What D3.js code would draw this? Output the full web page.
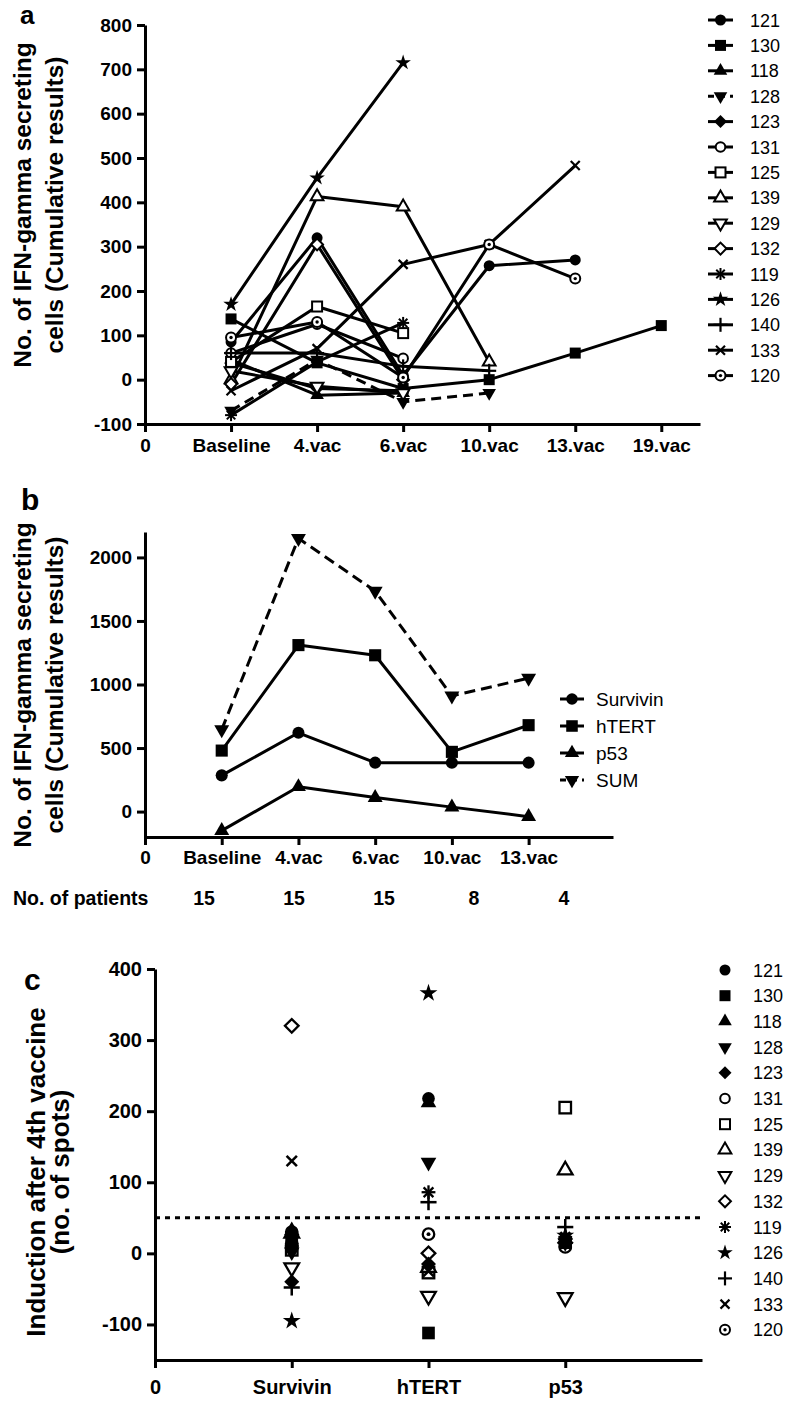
<!DOCTYPE html>
<html><head><meta charset="utf-8">
<script src="https://cdn.jsdelivr.net/npm/d3@7"></script>
<style>
body{margin:0;background:#fff;}
svg{display:block;font-family:"Liberation Sans",Arial,Helvetica,sans-serif;}
</style></head><body>
<svg id="chart" width="786" height="1401"></svg>
<script>
// ---------------- DATA ----------------
const patientIds = ["121","130","118","128","123","131","125","139","129","132","119","126","140","133","120"];
const visitsA = ["Baseline","4.vac","6.vac","10.vac","13.vac","19.vac"];
const yTicksA = [-100,0,100,200,300,400,500,600,700,800];
const a121 = [85, 320, 10, 257, 270, null];
const a130 = [137, 38, -20, 0, 60, 122];
const a118 = [45, -35, -30, null, null, null];
const a128 = [-70, 45, -50, -30, null, null];
const a123 = [38, -20, -25, null, null, null];
const a131 = [60, 125, 48, null, null, null];
const a125 = [40, 165, 105, null, null, null];
const a139 = [0, 413, 390, 40, null, null];
const a129 = [20, -15, -30, null, null, null];
const a132 = [-10, 305, 0, null, null, null];
const a119 = [-80, 40, 128, null, null, null];
const a126 = [170, 455, 715, null, null, null];
const a140 = [60, 60, 30, 20, null, null];
const a133 = [-25, 70, 260, 305, 483, null];
const a120 = [95, 130, 5, 305, 228, null];

const visitsB = ["Baseline","4.vac","6.vac","10.vac","13.vac"];
const yTicksB = [0,500,1000,1500,2000];
const bSurvivin = [285, 620, 385, 385, 385];
const bHTERT = [480, 1310, 1230, 470, 680];
const bP53 = [-150, 195, 110, 35, -40];
const bSum = [645, 2150, 1735, 910, 1050];
const seriesB = ["Survivin","hTERT","p53","SUM"];
const patientsPerVisit = [15, 15, 15, 8, 4];

const peptides = ["Survivin","hTERT","p53"];
const yTicksC = [-100,0,100,200,300,400];
const threshold = 50;
// order follows patientIds
const cSurvivin = [22, 12, 32, 2, -40, 15, 5, 28, -20, 320, 10, -95, -48, 130, 30];
const cHTERT    = [218, -112, 212, 128, -15, -25, -27, -20, -60, 0, 86, 366, 72, -25, 27];
const cP53      = [20, 15, 20, 15, 20, 10, 205, 117, -62, 15, 23, 25, 37, 20, 9];

// ---------------- STYLE ----------------
const seriesA = [a121,a130,a118,a128,a123,a131,a125,a139,a129,a132,a119,a126,a140,a133,a120];
const markerTypes = ["circle","square","triangle","triangleDown","diamond","circleOpen","squareOpen",
  "triangleOpen","triangleDownOpen","diamondOpen","asterisk","star","plus","times","circleDot"];
const dashedA = {"128": true};
const fmt = d => (d < 0 ? "-" + Math.abs(d) : String(d));

const svg = d3.select("#chart");
const BOLD = 700;

function marker(g, type, x, y, k = 1) {
  const s = g.append("g").attr("transform", `translate(${x},${y}) scale(${k})`);
  const black = "#000";
  const openStyle = sel => sel.attr("fill", "#fff").attr("stroke", black).attr("stroke-width", 2);
  switch (type) {
    case "circle": s.append("circle").attr("r", 5.5).attr("fill", black); break;
    case "circleOpen": openStyle(s.append("circle").attr("r", 4.8)); break;
    case "circleDot":
      openStyle(s.append("circle").attr("r", 5));
      s.append("circle").attr("r", 1.7).attr("fill", black); break;
    case "square": s.append("rect").attr("x", -5.5).attr("y", -5.5).attr("width", 11).attr("height", 11).attr("fill", black); break;
    case "squareOpen": openStyle(s.append("rect").attr("x", -5).attr("y", -5).attr("width", 10).attr("height", 10)); break;
    case "triangle": s.append("path").attr("d", d3.symbol(d3.symbolTriangle, 80)()).attr("fill", black); break;
    case "triangleOpen": openStyle(s.append("path").attr("d", d3.symbol(d3.symbolTriangle, 70)())); break;
    case "triangleDown": s.append("path").attr("d", d3.symbol(d3.symbolTriangle, 80)()).attr("transform", "rotate(180)").attr("fill", black); break;
    case "triangleDownOpen": openStyle(s.append("path").attr("d", d3.symbol(d3.symbolTriangle, 70)()).attr("transform", "rotate(180)")); break;
    case "diamond": s.append("rect").attr("x", -4.6).attr("y", -4.6).attr("width", 9.2).attr("height", 9.2).attr("transform", "rotate(45)").attr("fill", black); break;
    case "diamondOpen": openStyle(s.append("rect").attr("x", -4.2).attr("y", -4.2).attr("width", 8.4).attr("height", 8.4).attr("transform", "rotate(45)")); break;
    case "star": s.append("path").attr("d", d3.symbol(d3.symbolStar, 75)()).attr("fill", black); break;
    case "asterisk":
      [0, 45, 90, 135].forEach(a => s.append("line").attr("x1", 0).attr("y1", -6).attr("x2", 0).attr("y2", 6)
        .attr("transform", `rotate(${a})`).attr("stroke", black).attr("stroke-width", 2)); break;
    case "plus":
      s.append("line").attr("x1", -7).attr("x2", 7).attr("y1", 0).attr("y2", 0).attr("stroke", black).attr("stroke-width", 2.2);
      s.append("line").attr("y1", -7).attr("y2", 7).attr("x1", 0).attr("x2", 0).attr("stroke", black).attr("stroke-width", 2.2); break;
    case "times":
      s.append("line").attr("x1", -4.5).attr("x2", 4.5).attr("y1", -4.5).attr("y2", 4.5).attr("stroke", black).attr("stroke-width", 2.2);
      s.append("line").attr("x1", -4.5).attr("x2", 4.5).attr("y1", 4.5).attr("y2", -4.5).attr("stroke", black).attr("stroke-width", 2.2); break;
  }
}

function styleAxis(g, fontSize) {
  g.select(".domain").attr("stroke", "#000").attr("stroke-width", 3);
  g.selectAll(".tick line").attr("stroke", "#000").attr("stroke-width", 3);
  g.selectAll(".tick text").attr("fill", "#000").attr("font-size", fontSize).attr("font-weight", BOLD)
    .attr("font-family", '"Liberation Sans",Arial,sans-serif');
  g.attr("font-size", null).attr("font-family", null);
}

function rotTitle(lines, xs, cy, size) {
  lines.forEach((t, i) => {
    svg.append("text").attr("transform", `translate(${xs[i]},${cy}) rotate(-90)`)
      .attr("text-anchor", "middle").attr("font-size", size).attr("font-weight", BOLD).text(t);
  });
}

// ---------------- PANEL A ----------------
const xA = d3.scaleLinear().domain([0, 6.45]).range([145, 700]);
const yA = d3.scaleLinear().domain([-100, 800]).range([424, 25]);

svg.append("text").attr("x", 20).attr("y", 24).attr("font-size", 26).attr("font-weight", BOLD).text("a");
rotTitle(["No. of IFN-gamma secreting", "cells (Cumulative results)"], [31, 63], 205, 24.5);

const gA = svg.append("g");
const axAy = svg.append("g").attr("transform", `translate(${xA(0)},0)`)
  .call(d3.axisLeft(yA).tickValues(yTicksA).tickSize(8).tickPadding(5).tickSizeOuter(0).tickFormat(fmt));
styleAxis(axAy, 19);
const axAx = svg.append("g").attr("transform", `translate(0,${yA(-100)})`)
  .call(d3.axisBottom(xA).tickValues(d3.range(0, visitsA.length + 1)).tickSize(8).tickPadding(7).tickSizeOuter(0)
    .tickFormat(i => i === 0 ? "0" : visitsA[i - 1]));
styleAxis(axAx, 19);

const lineA = d3.line().defined(d => d != null).x((d, i) => xA(i + 1)).y(d => yA(d));
seriesA.forEach((vals, k) => {
  gA.append("path").attr("d", lineA(vals)).attr("fill", "none").attr("stroke", "#000")
    .attr("stroke-width", 3).attr("stroke-linejoin", "round")
    .attr("stroke-dasharray", dashedA[patientIds[k]] ? "10,6" : null);
});
seriesA.forEach((vals, k) => {
  vals.forEach((v, i) => { if (v != null) marker(gA, markerTypes[k], xA(i + 1), yA(v)); });
});

// legend A
patientIds.forEach((id, k) => {
  const y = 20 + k * 25.4;
  svg.append("line").attr("x1", 708).attr("x2", 733).attr("y1", y).attr("y2", y)
    .attr("stroke", "#000").attr("stroke-width", 3).attr("stroke-dasharray", dashedA[id] ? "6,5" : null);
  marker(svg, markerTypes[k], 720.5, y);
  svg.append("text").attr("x", 750).attr("y", y + 6.5).attr("font-size", 18).text(id);
});

// ---------------- PANEL B ----------------
const xB = d3.scaleLinear().domain([0, 6.1]).range([145, 613]);
const yB = d3.scaleLinear().domain([-200, 2200]).range([837, 532]);

svg.append("text").attr("x", 21).attr("y", 510).attr("font-size", 30).attr("font-weight", BOLD).text("b");
rotTitle(["No. of IFN-gamma secreting", "cells (Cumulative results)"], [31, 63], 685, 24.5);

const axBy = svg.append("g").attr("transform", `translate(${xB(0)},0)`)
  .call(d3.axisLeft(yB).tickValues(yTicksB).tickSize(8).tickPadding(5).tickSizeOuter(0).tickFormat(fmt));
styleAxis(axBy, 19);
const axBx = svg.append("g").attr("transform", `translate(0,${yB(-200)})`)
  .call(d3.axisBottom(xB).tickValues(d3.range(0, visitsB.length + 1)).tickSize(8).tickPadding(6).tickSizeOuter(0)
    .tickFormat(i => i === 0 ? "0" : visitsB[i - 1]));
styleAxis(axBx, 19);

const dataB = [bSurvivin, bHTERT, bP53, bSum];
const markB = ["circle", "square", "triangle", "triangleDown"];
const dashB = [null, null, null, "11,6"];
const gB = svg.append("g");
const lineB = d3.line().x((d, i) => xB(i + 1)).y(d => yB(d));
dataB.forEach((vals, k) => {
  gB.append("path").attr("d", lineB(vals)).attr("fill", "none").attr("stroke", "#000")
    .attr("stroke-width", 3).attr("stroke-linejoin", "round").attr("stroke-dasharray", dashB[k]);
});
dataB.forEach((vals, k) => vals.forEach((v, i) => marker(gB, markB[k], xB(i + 1), yB(v), 1.1)));

seriesB.forEach((name, k) => {
  const y = 699 + k * 27;
  svg.append("line").attr("x1", 560).attr("x2", 584).attr("y1", y).attr("y2", y)
    .attr("stroke", "#000").attr("stroke-width", 3).attr("stroke-dasharray", dashB[k] ? "6,5" : null);
  marker(svg, markB[k], 572, y, 1.05);
  svg.append("text").attr("x", 596).attr("y", y + 6.5).attr("font-size", 19).text(name);
});

// No. of patients row
svg.append("text").attr("x", 13).attr("y", 905).attr("font-size", 19.5).attr("font-weight", BOLD).text("No. of patients");
const xN = d3.scalePoint().domain(d3.range(patientsPerVisit.length)).range([204, 564]);
patientsPerVisit.forEach((n, i) => {
  svg.append("text").attr("x", xN(i)).attr("y", 905).attr("text-anchor", "middle")
    .attr("font-size", 19.5).attr("font-weight", BOLD).text(n);
});

// ---------------- PANEL C ----------------
const xC = d3.scaleLinear().domain([0, 4]).range([155, 702]);
const yC = d3.scaleLinear().domain([-150, 400]).range([1360, 969]);

svg.append("text").attr("x", 24).attr("y", 990).attr("font-size", 30).attr("font-weight", BOLD).text("c");
rotTitle(["Induction after 4th vaccine", "(no. of spots)"], [45, 69], 1172, 26);

const axCy = svg.append("g").attr("transform", `translate(${xC(0)},0)`)
  .call(d3.axisLeft(yC).tickValues(yTicksC).tickSize(8).tickPadding(5).tickSizeOuter(0).tickFormat(fmt));
styleAxis(axCy, 20);
const axCx = svg.append("g").attr("transform", `translate(0,${yC(-150)})`)
  .call(d3.axisBottom(xC).tickValues(d3.range(0, peptides.length + 1)).tickSize(8).tickPadding(12).tickSizeOuter(0)
    .tickFormat(i => i === 0 ? "0" : peptides[i - 1]));
styleAxis(axCx, 20);

svg.append("line").attr("x1", xC(0)).attr("x2", 700).attr("y1", yC(threshold)).attr("y2", yC(threshold))
  .attr("stroke", "#000").attr("stroke-width", 3).attr("stroke-dasharray", "5,5");

// draw open / line markers first, filled ones on top
const gC = svg.append("g");
const dataC = [cSurvivin, cHTERT, cP53];
const filledFirst = k => ["circle","square","triangle","triangleDown","diamond","star"].includes(markerTypes[k]) ? 1 : 0;
const orderC = d3.range(patientIds.length).sort((p, q) => filledFirst(p) - filledFirst(q));
dataC.forEach((vals, j) => {
  orderC.forEach(k => marker(gC, markerTypes[k], xC(j + 1), yC(vals[k]), 1.15));
});

patientIds.forEach((id, k) => {
  const y = 970 + k * 25.7;
  marker(svg, markerTypes[k], 725, y);
  svg.append("text").attr("x", 753).attr("y", y + 6.5).attr("font-size", 18).text(id);
});
</script>
</body></html>
